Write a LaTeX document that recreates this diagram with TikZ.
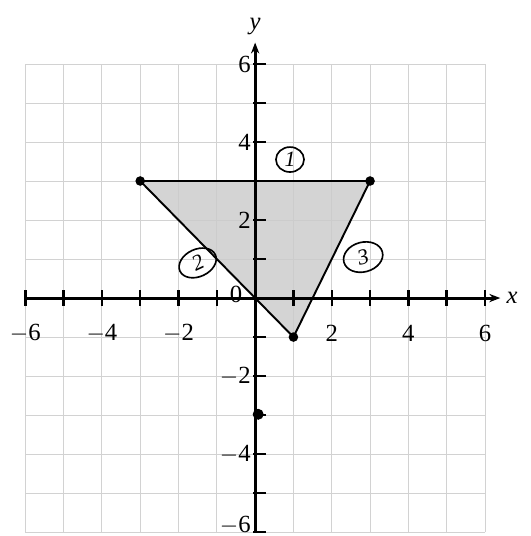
\documentclass[tikz,border=0pt]{standalone}
\usepackage{fontspec}
\setmainfont{Liberation Serif}
\usepackage{tikz}
\usetikzlibrary{positioning, shapes, arrows.meta, calc}

\tikzset{
  gridline/.style={gray!35, line width=0.6pt},
  axisline/.style={line width=2.2pt, black},
  ticklabel/.style={font=\fontsize{18}{20}\selectfont, inner sep=1pt},
  edgeline/.style={line width=1.4pt, black},
  vertexdot/.style={circle, fill=black, inner sep=0pt, minimum size=7pt},
  sidemark/.style={ellipse, draw, line width=1.2pt, inner sep=0pt,
                   font=\fontsize{16}{18}\selectfont\itshape}
}

\begin{document}
\begin{tikzpicture}[x=0.982cm, y=1cm, >={Stealth[length=8pt]}]
  \useasboundingbox (-6.66,-6.10) rectangle (7.18,7.64);

  % Grid, one line per unit
  \foreach \k in {-6,...,6} {
    \draw[gridline] (\k,-6) -- (\k,6);
    \draw[gridline] (-6,\k) -- (6,\k);
  }

  % Shaded triangle
  \coordinate (A) at (-3,3);
  \coordinate (B) at (3,3);
  \coordinate (C) at (1,-1);
  \fill[gray!40, opacity=0.85] (A) -- (B) -- (C) -- cycle;

  % Axes
  \coordinate (xstart) at (-6,0);
  \coordinate (xend) at (6.4,0);
  \coordinate (ystart) at (0,-6);
  \coordinate (yend) at (0,6.55);
  \draw[axisline, ->] (xstart) -- (xend);
  \draw[axisline, ->] (ystart) -- (yend);
  \node[font=\fontsize{18}{20}\selectfont\itshape, right=1pt of xend] (xlabel) {x};
  \node[font=\fontsize{18}{20}\selectfont\itshape, above=2pt of yend] (ylabel) {y};

  % Ticks
  \foreach \k in {-6,...,6} {
    \draw[line width=1.8pt] (\k,-0.2) -- (\k,0.2);
  }
  \foreach \k in {-6,...,-1,1,2,...,6} {
    \draw[line width=1.8pt] (-0.05,\k) -- (0.28,\k);
  }

  % Tick labels
  \foreach \k/\t in {-6/$-$6,-4/$-$4,-2/$-$2,2/2,4/4,6/6} {
    \node[ticklabel] (xt\k) at (\k,-0.9) {\t};
  }
  \foreach \k/\t in {-4/$-$4,-2/$-$2,2/2,4/4,6/6} {
    \node[ticklabel, left=2pt] (yt\k) at (0,\k) {\t};
  }
  \node[ticklabel, left=2pt] (yt-6) at (0,-5.82) {$-$6};
  \node[ticklabel] (zero) at (-0.5,0.1) {0};

  % Triangle sides and vertices
  \draw[edgeline] (A) -- (B) -- (C) -- cycle;
  \node[vertexdot] (dA) at (A) {};
  \node[vertexdot] (dB) at (B) {};
  \node[vertexdot] (dC) at (C) {};
  \node[vertexdot, minimum size=8pt] (dD) at (0.08,-2.98) {};

  % Side numbers
  \node[sidemark, minimum width=0.72cm, minimum height=0.64cm] (s1) at (0.91,3.55) {1};
  \node[sidemark, minimum width=1.0cm, minimum height=0.7cm, rotate=25] (s2) at (-1.5,0.9) {2};
  \node[sidemark, minimum width=1.02cm, minimum height=0.76cm, rotate=15] (s3) at (2.82,1.05) {3};
\end{tikzpicture}
\end{document}
